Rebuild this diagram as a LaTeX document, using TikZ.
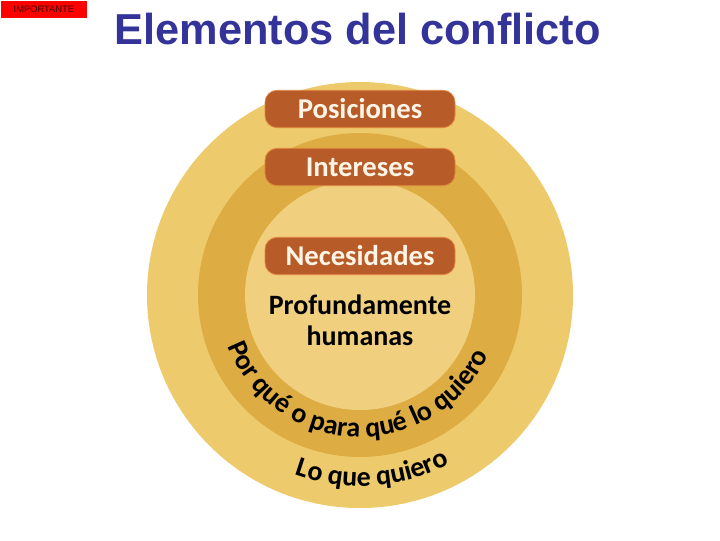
\documentclass[tikz,border=0pt]{standalone}
\usepackage{fontspec}
\setmainfont{Liberation Sans}
\newfontfamily\carlito{Carlito}
\usetikzlibrary{decorations.text}

\definecolor{titleblue}{RGB}{51,51,153}
\definecolor{ringouter}{RGB}{237,202,107}
\definecolor{ringmiddle}{RGB}{221,172,66}
\definecolor{ringinner}{RGB}{240,208,127}
\definecolor{pillfill}{RGB}{183,91,40}
\definecolor{pillborder}{RGB}{226,135,63}
\definecolor{pilltext}{RGB}{255,245,230}

\newcommand{\curvefont}{\carlito\bfseries\fontsize{21}{25}\selectfont}

\tikzset{every picture/.style={line width=0.75pt}}
\tikzset{
  pill/.style={rounded corners=9pt, fill=pillfill, draw=pillborder, line width=0.6pt,
    minimum width=142.5pt, minimum height=28pt, inner sep=0pt,
    text=pilltext, font=\carlito\bfseries\fontsize{21.5}{25}\selectfont},
  plain/.style={inner sep=0.75pt, align=center, font=\carlito\bfseries\fontsize{21}{25}\selectfont}
}

\begin{document}
\begin{tikzpicture}[x=0.75pt,y=0.75pt,yscale=-1,xscale=1]
        \useasboundingbox (0,0) rectangle (720,540);

        % Text Node
        \node (importante) [fill=red, anchor=north west, minimum width=65pt, minimum height=12.75pt,
          inner sep=0pt, text={rgb,255:red,60;green,0;blue,0}, font=\fontsize{7}{8}\selectfont] at (0,0) {IMPORTANTE};
        % Text Node
        \node (titulo) [anchor=base west, inner sep=0pt, text=titleblue, font=\bfseries\fontsize{32.5}{36}\selectfont] at (114,44) {Elementos del conflicto};

        %Shape: Circle 
        \draw [draw=none, fill=ringouter] (360,295) circle [radius=213];
        %Shape: Circle 
        \draw [draw=none, fill=ringmiddle] (360,295) circle [radius=162];
        %Shape: Circle 
        \draw [draw=none, fill=ringinner] (360,295) circle [radius=115];

        % Pills
        \node (posiciones) [pill] at (360,109) {Posiciones};
        \node (intereses) [pill] at (360,167) {Intereses};
        \node (necesidades) [pill] at (360,256) {Necesidades};

        % Text Node
        \node (humanas) [plain] at (360,320) {Profundamente\\[-2pt]humanas};

        %Curve text
        \path [decorate, decoration={text along path, text align=center,
          text={|\curvefont|Por qué o para qué lo quiero}}]
          (360,295) ++(182:142) arc [start angle=182, end angle=2, radius=142];
        %Curve text
        \path [decorate, decoration={text along path, text align=center,
          text={|\curvefont|Lo que quiero}}]
          (360,295) ++(176:191) arc [start angle=176, end angle=-4, radius=191];

    \end{tikzpicture}
\end{document}
